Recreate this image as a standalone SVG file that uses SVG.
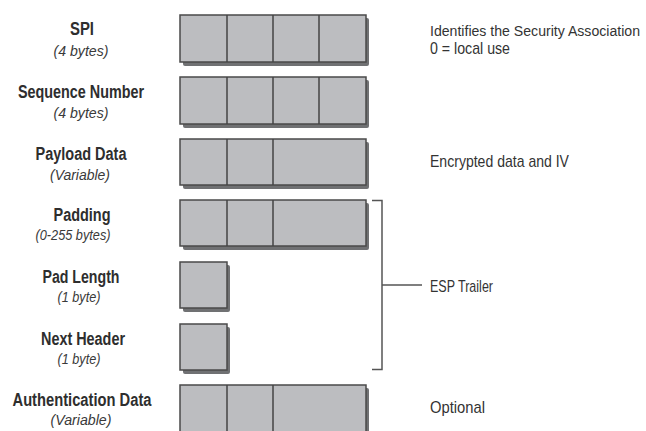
<svg xmlns="http://www.w3.org/2000/svg" width="646" height="431" viewBox="0 0 646 431">
<defs>
<style>
.t{font-family:"Liberation Sans",Arial,sans-serif;font-weight:bold;font-size:17.5px;fill:#2e2e2e;text-anchor:middle}
.s{font-family:"Liberation Sans",Arial,sans-serif;font-style:italic;font-size:15.5px;fill:#3a3a3a;text-anchor:middle}
.r{font-family:"Liberation Sans",Arial,sans-serif;font-size:17px;fill:#333}
.box{fill:#bcbdc0;stroke:#4a4a4a;stroke-width:1.5}
.sh{fill:#707173}
.dv{stroke:#454545;stroke-width:1.5}
.br{fill:none;stroke:#555;stroke-width:1.5}
</style>
</defs>
<rect width="646" height="431" fill="#fff"/>

<g id="spi">
<text class="t" x="82" y="35" textLength="24" lengthAdjust="spacingAndGlyphs">SPI</text>
<text class="s" x="81" y="56" textLength="55" lengthAdjust="spacingAndGlyphs">(4 bytes)</text>
<rect class="sh" x="183" y="18" width="186" height="48" rx="2"/>
<rect class="box" x="180" y="15" width="186" height="47"/>
<line class="dv" x1="227" y1="15" x2="227" y2="62"/>
<line class="dv" x1="273" y1="15" x2="273" y2="62"/>
<line class="dv" x1="319" y1="15" x2="319" y2="62"/>
</g>

<g id="seq">
<text class="t" x="81" y="98" textLength="126" lengthAdjust="spacingAndGlyphs">Sequence Number</text>
<text class="s" x="81" y="118" textLength="55" lengthAdjust="spacingAndGlyphs">(4 bytes)</text>
<rect class="sh" x="183" y="80" width="186" height="48" rx="2"/>
<rect class="box" x="180" y="77" width="186" height="47"/>
<line class="dv" x1="227" y1="77" x2="227" y2="124"/>
<line class="dv" x1="273" y1="77" x2="273" y2="124"/>
<line class="dv" x1="319" y1="77" x2="319" y2="124"/>
</g>

<g id="payload">
<text class="t" x="81" y="160" textLength="91" lengthAdjust="spacingAndGlyphs">Payload Data</text>
<text class="s" x="80" y="180" textLength="60" lengthAdjust="spacingAndGlyphs">(Variable)</text>
<rect class="sh" x="183" y="142" width="186" height="47" rx="2"/>
<rect class="box" x="180" y="139" width="186" height="46"/>
<line class="dv" x1="227" y1="139" x2="227" y2="185"/>
<line class="dv" x1="273" y1="139" x2="273" y2="185"/>
</g>

<g id="padding">
<text class="t" x="82" y="221" textLength="57" lengthAdjust="spacingAndGlyphs">Padding</text>
<text class="s" x="73" y="240" textLength="75" lengthAdjust="spacingAndGlyphs">(0-255 bytes)</text>
<rect class="sh" x="183" y="203" width="186" height="47" rx="2"/>
<rect class="box" x="180" y="200" width="186" height="46"/>
<line class="dv" x1="227" y1="200" x2="227" y2="246"/>
<line class="dv" x1="273" y1="200" x2="273" y2="246"/>
</g>

<g id="padlen">
<text class="t" x="81" y="283" textLength="77" lengthAdjust="spacingAndGlyphs">Pad Length</text>
<text class="s" x="79" y="302" textLength="43" lengthAdjust="spacingAndGlyphs">(1 byte)</text>
<rect class="sh" x="183" y="265" width="47" height="47" rx="2"/>
<rect class="box" x="180" y="262" width="47" height="46"/>
</g>

<g id="nexthdr">
<text class="t" x="83" y="345" textLength="84" lengthAdjust="spacingAndGlyphs">Next Header</text>
<text class="s" x="79" y="364" textLength="43" lengthAdjust="spacingAndGlyphs">(1 byte)</text>
<rect class="sh" x="183" y="327" width="47" height="47" rx="2"/>
<rect class="box" x="180" y="324" width="47" height="46"/>
</g>

<g id="auth">
<text class="t" x="82" y="406" textLength="139" lengthAdjust="spacingAndGlyphs">Authentication Data</text>
<text class="s" x="81" y="425" textLength="61" lengthAdjust="spacingAndGlyphs">(Variable)</text>
<rect class="sh" x="183" y="388" width="186" height="47" rx="2"/>
<rect class="box" x="180" y="385" width="186" height="50"/>
<line class="dv" x1="227" y1="385" x2="227" y2="435"/>
<line class="dv" x1="273" y1="385" x2="273" y2="435"/>
</g>

<g id="notes">
<text class="r" x="430" y="36" style="font-size:14px" textLength="210" lengthAdjust="spacingAndGlyphs">Identifies the Security Association</text>
<text class="r" x="430" y="54" textLength="80" lengthAdjust="spacingAndGlyphs">0 = local use</text>
<text class="r" x="430" y="167" textLength="139" lengthAdjust="spacingAndGlyphs">Encrypted data and IV</text>
<text class="r" x="430" y="292" textLength="63" lengthAdjust="spacingAndGlyphs">ESP Trailer</text>
<text class="r" x="430" y="413" textLength="55" lengthAdjust="spacingAndGlyphs">Optional</text>
</g>

<g id="connectors">
<path class="br" d="M372 200.5 H382 V369.5 H372"/>
<line class="br" x1="382" y1="285" x2="422" y2="285"/>
</g>
</svg>
